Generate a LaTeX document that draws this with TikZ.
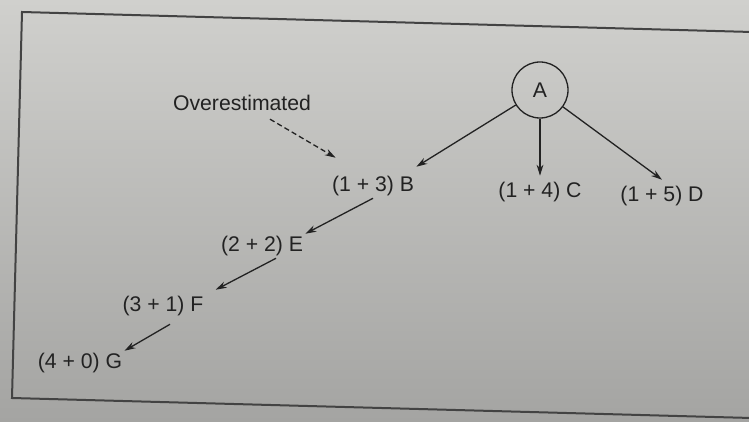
\documentclass[tikz,border=0pt]{standalone}
\usepackage{fontspec}
\setmainfont{Liberation Sans}
\usetikzlibrary{arrows.meta,calc}
\definecolor{paperT}{HTML}{D0D0CD}
\definecolor{paperB}{HTML}{A4A4A2}
\definecolor{ink}{HTML}{222222}
\begin{document}
\begin{tikzpicture}[x=0.5pt,y=-0.5pt,
  lbl/.style={inner sep=1pt,text=ink,font=\fontsize{10.6}{12}\selectfont},
  circ/.style={circle,draw=ink,line width=0.65pt,minimum size=28pt,inner sep=0pt,text=ink,font=\fontsize{10.6}{12}\selectfont},
  edge/.style={draw=ink,line width=0.65pt,-{Stealth[length=5.5pt,width=3.4pt]}},
  dashedge/.style={edge,dash pattern=on 2.6pt off 1.6pt}]
\useasboundingbox (0,0) rectangle (749,422);
\shade[top color=paperT,bottom color=paperB] (0,0) rectangle (749,422);
% frame (slightly rotated in the photograph)
\begin{scope}
\clip (0,0) rectangle (749,422);
\draw[ink!85,line width=1pt] (770,32.5) -- (22,12) -- (12,398) -- (770,418.5);
\end{scope}
% nodes
\node[circ] (A) at (540,90) {A};
\node[lbl] (O) at (242,103) {Overestimated};
\node[lbl] (B) at (373,186) {(1 + 3) B};
\node[lbl] (C) at (540,192) {(1 + 4) C};
\node[lbl] (D) at (662,196) {(1 + 5) D};
\node[lbl] (E) at (262,246) {(2 + 2) E};
\node[lbl] (F) at (163,306) {(3 + 1) F};
\node[lbl] (G) at (80,363) {(4 + 0) G};
% connectors
\draw[edge] (A) -- ([yshift=3.5pt]B.north east);
\draw[edge] (A) -- ([yshift=2pt]C.north);
\draw[edge] (A) -- ([yshift=2pt]D.north);
\draw[edge] (B.south) -- (E.north east);
\draw[edge] ([xshift=7pt]E.south) -- ([xshift=5pt,yshift=2pt]F.north east);
\draw[edge] ([xshift=3.5pt,yshift=-3pt]F.south) -- (G.north east);
\draw[dashedge] ([xshift=14pt,yshift=-3pt]O.south) -- ([xshift=3pt,yshift=8pt]B.north west);
\end{tikzpicture}
\end{document}
